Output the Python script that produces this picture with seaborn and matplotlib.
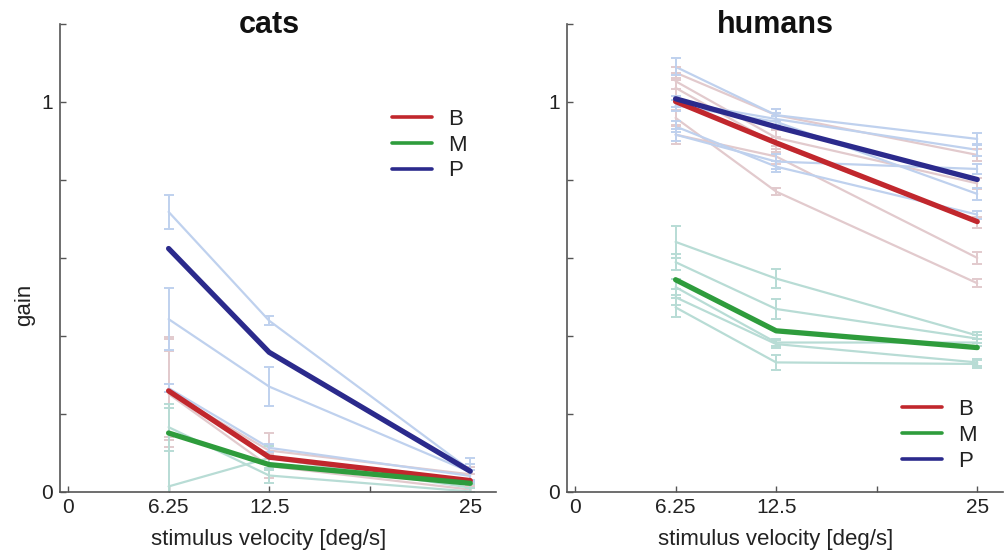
import numpy as np
import pandas as pd
import matplotlib
matplotlib.use("Agg")
import matplotlib.pyplot as plt
from matplotlib.lines import Line2D
import seaborn as sns

# ---------------- data ----------------
velocities = [6.25, 12.5, 25]
groups = ["B", "M", "P"]
xtick_vals = [0, 6.25, 12.5, 18.75, 25]
xtick_labels = ["0", "6.25", "12.5", "", "25"]
ytick_vals = [0, 0.2, 0.4, 0.6, 0.8, 1.0, 1.2]
ytick_labels = ["0", "", "", "", "", "1", ""]

# cats
cats_B_mean = [0.258, 0.088, 0.028]
cats_M_mean = [0.150, 0.069, 0.021]
cats_P_mean = [0.623, 0.357, 0.052]
cats_B_subj = [[0.255, 0.105, 0.044], [0.262, 0.090, 0.030], [0.250, 0.065, 0.005]]
cats_B_err = [[0.14, 0.045, 0.02], [0.13, 0.030, 0.015], [0.11, 0.030, 0.01]]
cats_M_subj = [[0.165, 0.041, 0.000], [0.013, 0.086, 0.010]]
cats_M_err = [[0.06, 0.02, 0.01], [0.20, 0.03, 0.01]]
cats_P_subj = [[0.717, 0.438, 0.055], [0.442, 0.269, 0.050], [0.265, 0.112, 0.040]]
cats_P_err = [[0.043, 0.012, 0.030], [0.080, 0.050, 0.020], [0.010, 0.010, 0.015]]

# humans
hum_B_mean = [1.000, 0.894, 0.692]
hum_M_mean = [0.543, 0.412, 0.369]
hum_P_mean = [1.007, 0.935, 0.800]
hum_B_subj = [[1.074, 0.965, 0.863], [1.052, 0.907, 0.790], [1.035, 0.890, 0.690],
              [0.915, 0.859, 0.599], [0.958, 0.769, 0.534]]
hum_B_err = [[0.015, 0.015, 0.015], [0.02, 0.02, 0.015], [0.02, 0.02, 0.015],
             [0.025, 0.02, 0.015], [0.02, 0.01, 0.01]]
hum_M_subj = [[0.640, 0.546, 0.400], [0.588, 0.468, 0.392], [0.524, 0.382, 0.382],
              [0.498, 0.378, 0.331], [0.472, 0.331, 0.327]]
hum_M_err = [[0.04, 0.025, 0.01], [0.02, 0.025, 0.01], [0.02, 0.01, 0.01],
             [0.02, 0.01, 0.01], [0.025, 0.02, 0.01]]
hum_P_subj = [[1.089, 0.965, 0.904], [1.000, 0.955, 0.876], [0.990, 0.948, 0.763],
              [0.915, 0.846, 0.827], [0.936, 0.833, 0.710]]
hum_P_err = [[0.022, 0.015, 0.015], [0.015, 0.015, 0.015], [0.015, 0.015, 0.015],
             [0.015, 0.02, 0.012], [0.015, 0.015, 0.01]]

thick_colors = {"B": "#c1272d", "M": "#2e9c3c", "P": "#2b2a8c"}
thin_colors = {"B": "#e2cacd", "M": "#b8dcd5", "P": "#bfd1ee"}

# --------------- helpers ---------------
def subj_frame(subj_dict):
    rows = []
    for g, subjects in subj_dict.items():
        for i, vals in enumerate(subjects):
            for v, y in zip(velocities, vals):
                rows.append({"group": g, "subject": f"{g}{i}", "velocity": v, "gain": y})
    return pd.DataFrame(rows)

def mean_frame(mean_dict):
    rows = []
    for g, vals in mean_dict.items():
        for v, y in zip(velocities, vals):
            rows.append({"group": g, "velocity": v, "gain": y})
    return pd.DataFrame(rows)

sns.set_style("white")
plt.rcParams["font.family"] = ["Liberation Sans", "DejaVu Sans"]

fig = plt.figure(figsize=(10.06, 5.56), dpi=100)
ax_l = fig.add_axes([60 / 1006, 64.5 / 556, 436 / 1006, 468 / 556])
ax_r = fig.add_axes([567 / 1006, 64.5 / 556, 436 / 1006, 468 / 556])

panels = [
    (ax_l, "cats",
     {"B": cats_B_subj, "M": cats_M_subj, "P": cats_P_subj},
     {"B": cats_B_err, "M": cats_M_err, "P": cats_P_err},
     {"B": cats_B_mean, "M": cats_M_mean, "P": cats_P_mean},
     (0.761, 0.818)),
    (ax_r, "humans",
     {"B": hum_B_subj, "M": hum_M_subj, "P": hum_P_subj},
     {"B": hum_B_err, "M": hum_M_err, "P": hum_P_err},
     {"B": hum_B_mean, "M": hum_M_mean, "P": hum_P_mean},
     (0.768, 0.198)),
]

for ax, title, subj, errs, means, leg_pos in panels:
    # individual subjects (thin)
    df_s = subj_frame(subj)
    sns.lineplot(data=df_s, x="velocity", y="gain", hue="group", units="subject",
                 estimator=None, palette=thin_colors, hue_order=groups,
                 lw=1.6, legend=False, ax=ax, zorder=2)
    for g in groups:
        for vals, e in zip(subj[g], errs[g]):
            ax.errorbar(velocities, vals, yerr=e, fmt="none", ecolor=thin_colors[g],
                        elinewidth=1.4, capsize=3.5, capthick=1.4, zorder=2)
    # group means (thick)
    df_m = mean_frame(means)
    sns.lineplot(data=df_m, x="velocity", y="gain", hue="group", hue_order=groups,
                 palette=thick_colors, lw=3.8, legend=False, ax=ax, zorder=4,
                 errorbar=None)

    ax.set_xlim(-0.5, 26.6)
    ax.set_ylim(0, 1.2)
    ax.set_xticks(xtick_vals)
    ax.set_xticklabels(xtick_labels)
    ax.set_yticks(ytick_vals)
    ax.set_yticklabels(ytick_labels)
    ax.tick_params(direction="in", length=4, width=1, colors="#555555",
                   labelcolor="#222222", labelsize=15, pad=5,
                   left=True, bottom=True)
    for side in ["top", "right"]:
        ax.spines[side].set_visible(False)
    for side in ["left", "bottom"]:
        ax.spines[side].set_color("#555555")
        ax.spines[side].set_linewidth(1.2)
    ax.set_xlabel("")
    ax.set_ylabel("")
    ax.text(0.479, -0.115, "stimulus velocity [deg/s]", transform=ax.transAxes,
            ha="center", va="baseline", fontsize=16, color="#222222")
    ax.text(0.479, 0.979, title, transform=ax.transAxes, ha="center",
            va="baseline", fontsize=22, fontweight="bold", color="#111111")

    handles = [Line2D([0], [0], color=thick_colors[g], lw=2.6) for g in groups]
    ax.legend(handles, groups, loc="upper left", bbox_to_anchor=leg_pos,
              frameon=False, fontsize=16, handlelength=1.8, handletextpad=0.75,
              labelspacing=0.22, borderpad=0, borderaxespad=0,
              labelcolor="#222222")

fig.text(25 / 1006, 1 - 305 / 556, "gain", rotation=90, ha="center", va="center",
         fontsize=16, color="#222222")

fig.savefig("out.png", dpi=100)
